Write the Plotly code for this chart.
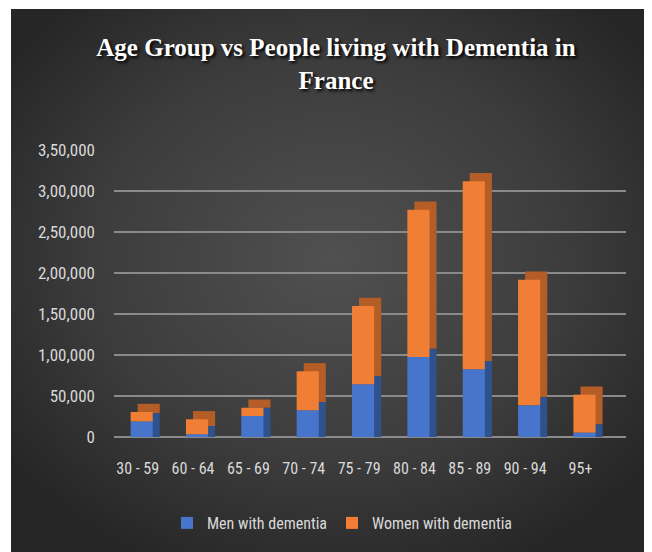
import base64
import plotly.graph_objects as go

# ---- data ----
age_groups = ["30 - 59", "60 - 64", "65 - 69", "70 - 74", "75 - 79",
              "80 - 84", "85 - 89", "90 - 94", "95+"]
men = [19000, 3300, 25600, 32600, 64200, 97600, 82500, 38600, 5300]
women = [11500, 18300, 10100, 47500, 95600, 179600, 229300, 153200, 46300]
y_tick_vals = [0, 50000, 100000, 150000, 200000, 250000, 300000, 350000]
y_tick_text = ["0", "50,000", "1,00,000", "1,50,000", "2,00,000",
               "2,50,000", "3,00,000", "3,50,000"]

# ---- styling ----
DEPTH = 10000      # apparent depth of 3-D columns (value units)
SHIFT = 0.127      # apparent depth (category units)
W = 0.4
blue, blue_dark = "#4675cb", "#2f528c"
orange, orange_dark = "#f07f35", "#b45d26"
label_font = "Roboto Condensed, Liberation Sans Narrow, Roboto, sans-serif"

FW, FH = 644, 544   # page body has an 8px margin
fig = go.Figure()
# depth (side/top) faces
fig.add_bar(x=age_groups, y=women, base=[m + DEPTH for m in men],
            width=W, offset=-W / 2 + SHIFT, marker_color=orange_dark,
            marker_line_width=0, showlegend=False, hoverinfo="skip")
fig.add_bar(x=age_groups, y=[m + DEPTH for m in men], base=[0] * len(men),
            width=W, offset=-W / 2 + SHIFT, marker_color=blue_dark,
            marker_line_width=0, showlegend=False, hoverinfo="skip")
# front faces
fig.add_bar(x=age_groups, y=men, base=[0] * len(men), name="Men with dementia",
            width=W, offset=-W / 2, marker_color=blue, marker_line_width=0)
fig.add_bar(x=age_groups, y=women, base=men, name="Women with dementia",
            width=W, offset=-W / 2, marker_color=orange, marker_line_width=0)

# background radial gradient
svg = """<svg xmlns='http://www.w3.org/2000/svg' width='641' height='543'>
<defs><radialGradient id='g' cx='50%' cy='46%' r='62%'>
<stop offset='0%' stop-color='#505050'/>
<stop offset='60%' stop-color='#3c3c3c'/>
<stop offset='100%' stop-color='#262626'/>
</radialGradient></defs>
<rect width='641' height='543' fill='url(#g)'/></svg>"""
src = "data:image/svg+xml;base64," + base64.b64encode(svg.encode()).decode()

L, R, T, B = 106, 26, 142, 115
pw, ph = FW - L - R, FH - T - B
fig.add_layout_image(source=src, xref="paper", yref="paper",
                     x=(3 - L) / pw, y=(FH - B - 1) / ph,
                     sizex=641 / pw, sizey=543 / ph,
                     xanchor="left", yanchor="top", sizing="stretch",
                     layer="below")

fig.update_layout(
    width=FW, height=FH,
    margin=dict(l=L, r=R, t=T, b=B, autoexpand=False),
    paper_bgcolor="white", plot_bgcolor="rgba(0,0,0,0)",
    barmode="overlay",
    title=dict(text="Age Group vs People living with Dementia in<br>France",
               x=328 / FW, xref="container", xanchor="center",
               y=1 - 48 / FH, yref="container", yanchor="top",
               font=dict(family="Liberation Serif, serif", size=25,
                         color="white", weight="bold",
                         shadow="2px 2px 3px #000000")),
    legend=dict(orientation="h", xref="container", yref="container",
                x=334 / FW, y=1 - 515 / FH, xanchor="center", yanchor="middle",
                font=dict(family=label_font, size=16, color="#d9d9d9"),
                bgcolor="rgba(0,0,0,0)", itemwidth=30, tracegroupgap=0),
    xaxis=dict(range=[-0.5, 8.75], showgrid=False, zeroline=False,
               showline=False, ticks="", ticklabelstandoff=20,
               ticklabelshift=-4,
               tickfont=dict(family=label_font, size=16, color="#d9d9d9")),
    yaxis=dict(range=[0, 350000], tickvals=y_tick_vals, ticktext=y_tick_text,
               showgrid=True, gridcolor="#8a8a8a", gridwidth=2,
               zeroline=True, zerolinecolor="#8a8a8a", zerolinewidth=2,
               showline=False, ticks="", ticklabelstandoff=18,
               tickfont=dict(family=label_font, size=17, color="#d9d9d9")),
    showlegend=True,
)

fig.write_html("out.html")
